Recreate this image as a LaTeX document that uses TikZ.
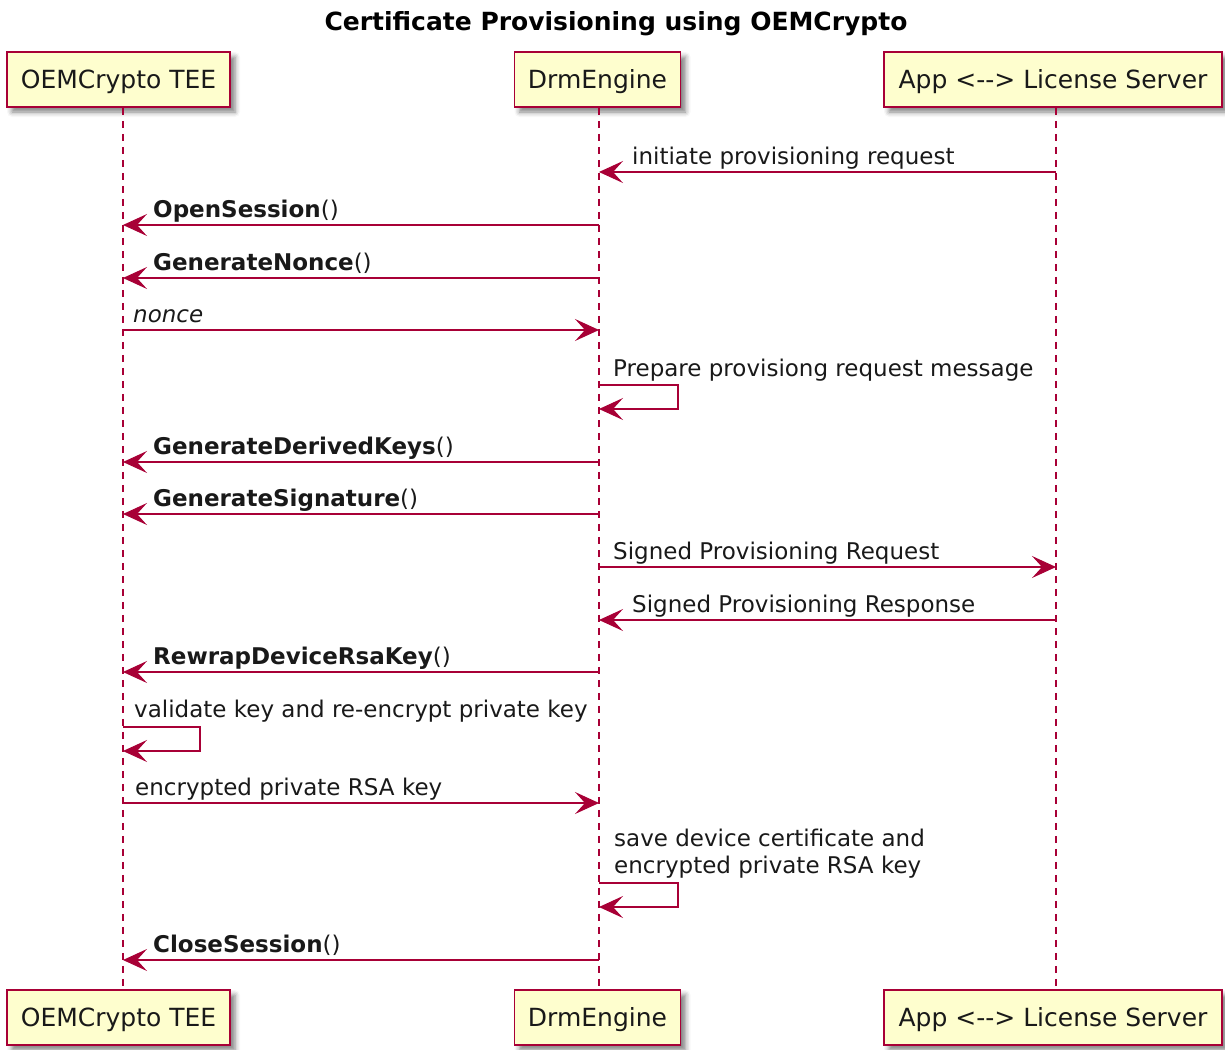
\documentclass[tikz,border=0pt]{standalone}
\usepackage{fontspec}
\setmainfont{DejaVu Sans}
\usetikzlibrary{arrows.meta,shadows.blur}
\definecolor{seqline}{HTML}{A80036}
\definecolor{seqfill}{HTML}{FEFECE}
\begin{document}
\begin{tikzpicture}[x=1pt,y=-1pt,
  participant/.style={draw=seqline, line width=1.6pt, fill=seqfill,
    minimum height=55pt, inner sep=0pt, text height=18pt, text depth=0pt,
    font=\fontsize{25}{30}\selectfont, text=black!90,
    blur shadow={shadow xshift=5pt, shadow yshift=-5pt,
      shadow blur radius=5pt, shadow opacity=50}},
  lifeline/.style={seqline, line width=1.3pt, dash pattern=on 7pt off 6pt},
  msg/.style={seqline, line width=1.8pt,
    -{Stealth[length=24pt,width=22pt,inset=10pt,line width=1pt]}},
  lbl/.style={anchor=base west, inner sep=0pt,
    font=\fontsize{23}{26.5}\selectfont, text=black!90},
  titlelbl/.style={anchor=base, inner sep=0pt,
    font=\fontsize{25}{30}\selectfont\bfseries, text=black},
]
\useasboundingbox (0,0) rectangle (1225,1049);

% title
\node[titlelbl] (title) at (616,31) {Certificate Provisioning using OEMCrypto};

% participants, top and bottom
\node[participant, minimum width=223pt] (oemT) at (118.5,79.5) {OEMCrypto TEE};
\node[participant, minimum width=166pt] (drmT) at (597.5,79.5) {DrmEngine};
\node[participant, minimum width=338pt] (appT) at (1053,79.5) {App <-\kern0pt-> License Server};
\node[participant, minimum width=223pt] (oemB) at (118.5,1017.5) {OEMCrypto TEE};
\node[participant, minimum width=166pt] (drmB) at (597.5,1017.5) {DrmEngine};
\node[participant, minimum width=338pt] (appB) at (1053,1017.5) {App <-\kern0pt-> License Server};

% lifelines
\coordinate (A) at (123,0);
\coordinate (D) at (599,0);
\coordinate (L) at (1056,0);
\draw[lifeline] (oemT.south -| A) -- (oemB.north -| A);
\draw[lifeline] (drmT.south -| D) -- (drmB.north -| D);
\draw[lifeline] (appT.south -| L) -- (appB.north -| L);

% messages
\draw[msg] (L |- 0,172) -- (D |- 0,172);
\node[lbl] (m1) at (632,164) {initiate provisioning request};

\draw[msg] (D |- 0,225) -- (A |- 0,225);
\node[lbl] (m2) at (153,217) {\textbf{OpenSession}()};

\draw[msg] (D |- 0,278) -- (A |- 0,278);
\node[lbl] (m3) at (153,270) {\textbf{GenerateNonce}()};

\draw[msg] (A |- 0,330) -- (D |- 0,330);
\node[lbl] (m4) at (133,322) {\textit{nonce}};

\draw[msg] (D |- 0,385) -- ++(79,0) -- ++(0,24) -- (D |- 0,409);
\node[lbl] (m5) at (613,376) {Prepare provisiong request message};

\draw[msg] (D |- 0,462) -- (A |- 0,462);
\node[lbl] (m6) at (153,454) {\textbf{GenerateDerivedKeys}()};

\draw[msg] (D |- 0,514) -- (A |- 0,514);
\node[lbl] (m7) at (153,506) {\textbf{GenerateSignature}()};

\draw[msg] (D |- 0,567) -- (L |- 0,567);
\node[lbl] (m8) at (613,559) {Signed Provisioning Request};

\draw[msg] (L |- 0,620) -- (D |- 0,620);
\node[lbl] (m9) at (632,612) {Signed Provisioning Response};

\draw[msg] (D |- 0,672) -- (A |- 0,672);
\node[lbl] (m10) at (153,664) {\textbf{RewrapDeviceRsaKey}()};

\draw[msg] (A |- 0,727) -- ++(77,0) -- ++(0,24) -- (A |- 0,751);
\node[lbl] (m11) at (134,717) {validate key and re-encrypt private key};

\draw[msg] (A |- 0,803) -- (D |- 0,803);
\node[lbl] (m12) at (135,795) {encrypted private RSA key};

\draw[msg] (D |- 0,883) -- ++(79,0) -- ++(0,24) -- (D |- 0,907);
\node[lbl, align=left] (m13) at (614,873) {save device certificate and\\encrypted private RSA key};

\draw[msg] (D |- 0,960) -- (A |- 0,960);
\node[lbl] (m14) at (153,952) {\textbf{CloseSession}()};
\end{tikzpicture}
\end{document}
